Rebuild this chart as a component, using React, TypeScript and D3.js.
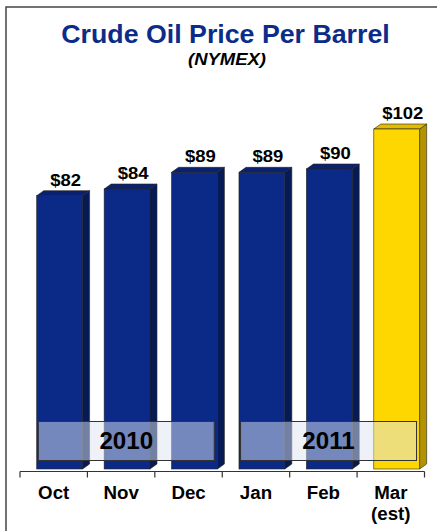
import React from "react";
import * as d3 from "d3";

const months = ["Oct", "Nov", "Dec", "Jan", "Feb", "Mar"];
const monthSub = ["", "", "", "", "", "(est)"];
const prices = [82, 84, 89, 89, 90, 102];
const estimated = [false, false, false, false, false, true];
const years = ["2010", "2011"];
const yearSpans = [
  ["Oct", "Dec"],
  ["Jan", "Mar"],
];

const W = 437;
const H = 531;
const FONT = "'Liberation Sans', Arial, Helvetica, sans-serif";

const navy = { front: "#0B2A88", top: "#0A2170", side: "#061A55" };
const gold = { front: "#FFD700", top: "#E2BC00", side: "#B39300" };

// text stretched a little wider than the plain font, as in the source slide
const Stretch: React.FC<{ x: number; y: number; k?: number; children: React.ReactNode }> = ({
  x,
  y,
  k = 1.07,
  children,
}) => <g transform={`translate(${x},${y}) scale(${k},1)`}>{children}</g>;

const App: React.FC = () => {
  const axisY = 471.5;
  const baseY = 469;
  const depthX = 7;
  const depthY = 5;

  const x = d3.scaleBand<string>().domain(months).range([20, 424.5]).padding(0);
  const y = d3.scaleLinear().domain([0, 120]).range([baseY, 69]);
  const bw = x.bandwidth();
  const frontW = bw * 0.68;
  const offset = bw * 0.248;

  const ticks = [...months.map((m) => x(m)!), x(months[months.length - 1])! + bw];

  return (
    <svg
      width={W}
      height={H}
      style={{ position: "absolute", left: 0, top: 0, display: "block", background: "#fff" }}
      fontFamily={FONT}
    >
      {/* frame */}
      <rect x={6} y={7} width={W} height={H} fill="none" stroke="#444" strokeWidth={1.5} />

      <Stretch x={225.5} y={42.5}>
        <text textAnchor="middle" fontSize={25} fontWeight="bold" fill="#0C2C8A">
          Crude Oil Price Per Barrel
        </text>
      </Stretch>
      <Stretch x={227} y={65} k={1.12}>
        <text textAnchor="middle" fontSize={16.5} fontWeight="bold" fontStyle="italic" fill="#000">
          (NYMEX)
        </text>
      </Stretch>

      {/* bars */}
      {months.map((m, i) => {
        const c = estimated[i] ? gold : navy;
        const x0 = x(m)! + offset;
        const x1 = x0 + frontW;
        const yt = y(prices[i]);
        const top = `M${x0},${yt} L${x0 + depthX},${yt - depthY} L${x1 + depthX},${yt - depthY} L${x1},${yt} Z`;
        const side = `M${x1},${yt} L${x1 + depthX},${yt - depthY} L${x1 + depthX},${baseY - depthY} L${x1},${baseY} Z`;
        return (
          <g key={m}>
            <path d={side} fill={c.side} stroke="#222" strokeWidth={0.6} />
            <path d={top} fill={c.top} stroke="#222" strokeWidth={0.6} />
            <rect x={x0} y={yt} width={frontW} height={baseY - yt} fill={c.front} stroke="#222" strokeWidth={0.6} />
            <Stretch x={x0 + frontW / 2 + 6} y={yt - 10} k={1.1}>
              <text textAnchor="middle" fontSize={16.8} fontWeight="bold" fill="#000">
                ${prices[i]}
              </text>
            </Stretch>
          </g>
        );
      })}

      {/* year boxes */}
      {years.map((yr, i) => {
        const [a, b] = yearSpans[i];
        const bx0 = x(a)! + 18.3;
        const bx1 = x(b)! + bw - 8;
        return (
          <g key={yr}>
            <rect
              x={bx0}
              y={axisY - 50}
              width={bx1 - bx0}
              height={39}
              fill="#DDE5F1"
              fillOpacity={0.5}
              stroke="#333"
              strokeWidth={1}
            />
            <Stretch x={(bx0 + bx1) / 2} y={449} k={1.05}>
              <text textAnchor="middle" fontSize={23} fontWeight="bold" fill="#000">
                {yr}
              </text>
            </Stretch>
          </g>
        );
      })}

      {/* axis */}
      <line x1={ticks[0]} x2={ticks[ticks.length - 1]} y1={axisY} y2={axisY} stroke="#333" strokeWidth={1.2} />
      {ticks.map((t, i) => (
        <line key={i} x1={t} x2={t} y1={axisY} y2={axisY + 6} stroke="#333" strokeWidth={1.2} />
      ))}
      {months.map((m, i) => (
        <g key={m}>
          <Stretch x={x(m)! + bw / 2} y={499}>
            <text textAnchor="middle" fontSize={17.5} fontWeight="bold" fill="#000">
              {m}
            </text>
          </Stretch>
          {monthSub[i] && (
            <Stretch x={x(m)! + bw / 2} y={520}>
              <text textAnchor="middle" fontSize={17.5} fontWeight="bold" fill="#000">
                {monthSub[i]}
              </text>
            </Stretch>
          )}
        </g>
      ))}
    </svg>
  );
};

export default App;
